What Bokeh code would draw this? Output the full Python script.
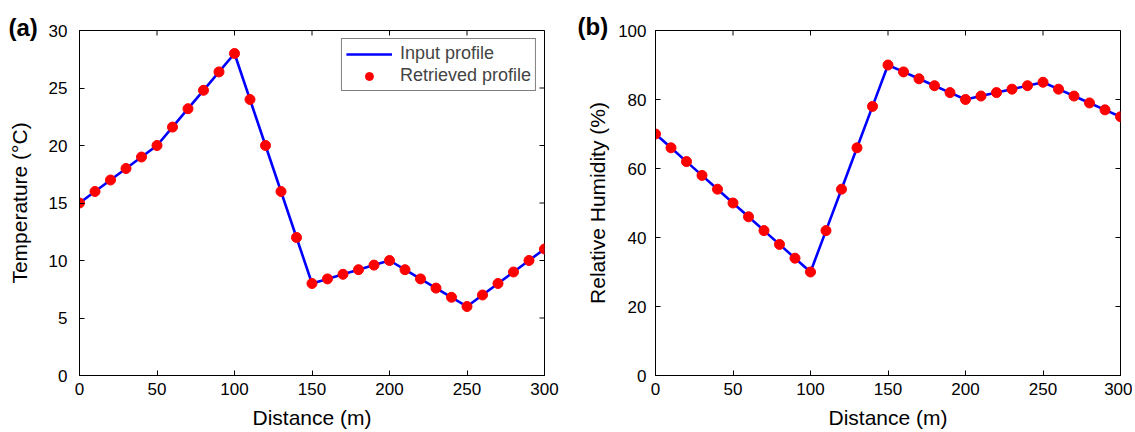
import math
from bokeh.plotting import figure
from bokeh.layouts import row
from bokeh.models import Range1d, Label, Legend, LegendItem, FixedTicker
from bokeh.embed import file_html
from bokeh.resources import INLINE

distance = [0, 10, 20, 30, 40, 50, 60, 70, 80, 90, 100, 110, 120, 130, 140, 150,
            160, 170, 180, 190, 200, 210, 220, 230, 240, 250, 260, 270, 280, 290, 300]
temperature = [15, 16, 17, 18, 19, 20, 21.6, 23.2, 24.8, 26.4, 28, 24, 20, 16, 12, 8,
               8.4, 8.8, 9.2, 9.6, 10, 9.2, 8.4, 7.6, 6.8, 6, 7, 8, 9, 10, 11]
humidity = [70, 66, 62, 58, 54, 50, 46, 42, 38, 34, 30, 42, 54, 66, 78, 90,
            88, 86, 84, 82, 80, 81, 82, 83, 84, 85, 83, 81, 79, 77, 75]
x_ticks = [0, 50, 100, 150, 200, 250, 300]
t_ticks = [0, 5, 10, 15, 20, 25, 30]
h_ticks = [0, 20, 40, 60, 80, 100]
X_MAX = 300

FONT = "Liberation Sans"


def style_axis(ax, ticks, label, tick_standoff, label_standoff):
    ax.ticker = FixedTicker(ticks=ticks)
    ax.major_tick_in = 5
    ax.major_tick_out = 0
    ax.minor_tick_in = 0
    ax.minor_tick_out = 0
    ax.axis_line_color = "black"
    ax.major_tick_line_color = "black"
    ax.major_label_text_font = FONT
    ax.major_label_text_color = "black"
    ax.major_label_text_font_size = "17px"
    ax.major_label_standoff = tick_standoff
    ax.axis_label = label
    ax.axis_label_standoff = label_standoff
    ax.axis_label_text_font = FONT
    ax.axis_label_text_font_size = "21px"
    ax.axis_label_text_font_style = "normal"
    ax.axis_label_text_color = "black"


def make_panel(yvals, ymax, yticks, ylabel, tag, width, height, bl, br, bt, bb,
               ytick_standoff, ylabel_standoff, tag_x, tag_y, legend):
    p = figure(width=width, height=height, output_backend="svg", toolbar_location=None,
               x_range=Range1d(0, X_MAX), y_range=Range1d(0, ymax),
               min_border_left=bl, min_border_right=br, min_border_top=bt, min_border_bottom=bb)
    p.xgrid.visible = False
    p.ygrid.visible = False
    p.outline_line_color = "black"
    p.outline_line_width = 1
    p.background_fill_color = "white"
    p.border_fill_color = "white"
    style_axis(p.xaxis[0], x_ticks, "Distance (m)", 7, 8)
    style_axis(p.yaxis[0], yticks, ylabel, ytick_standoff, ylabel_standoff)

    # inward tick marks on the top and right edges (half of each dash is clipped by the frame)
    p.scatter(x_ticks, [ymax] * len(x_ticks), marker="dash", angle=math.pi / 2, size=10,
              line_color="black", line_width=1)
    p.scatter([X_MAX] * len(yticks), yticks, marker="dash", size=10,
              line_color="black", line_width=1)

    ln = p.line(distance, yvals, line_color="#0000ff", line_width=2.6)
    sc = p.scatter(distance, yvals, size=10, fill_color="#ff0000", line_color="#ff0000")

    if legend:
        lg = Legend(items=[LegendItem(label="Input profile", renderers=[ln]),
                           LegendItem(label="Retrieved profile", renderers=[sc])],
                    location="top_right")
        lg.label_text_font = FONT
        lg.label_text_font_size = "18px"
        lg.border_line_color = "black"
        lg.border_line_width = 1.2
        lg.margin = 8
        lg.padding = 4
        lg.spacing = 1
        lg.glyph_width = 46
        lg.label_standoff = 8
        lg.background_fill_alpha = 1
        p.add_layout(lg, "center")

    lab = Label(x=tag_x, y=tag_y, x_units="screen", y_units="screen",
                text=tag, text_font=FONT, text_font_size="24px", text_font_style="bold",
                text_baseline="alphabetic", text_align="left", text_color="black")
    p.add_layout(lab, "above")
    return p


p1 = make_panel(temperature, 30, t_ticks, "Temperature (°C)", "(a)",
                574, 432, 79, 30, 29, 57, 12, 15, -71, 3, True)
p2 = make_panel(humidity, 100, h_ticks, "Relative Humidity (%)", "(b)",
                558, 432, 81, 12, 30, 53, 9, 6, -78, 4, False)

layout = row(p1, p2)
open("out.html", "w").write(file_html(layout, INLINE))
